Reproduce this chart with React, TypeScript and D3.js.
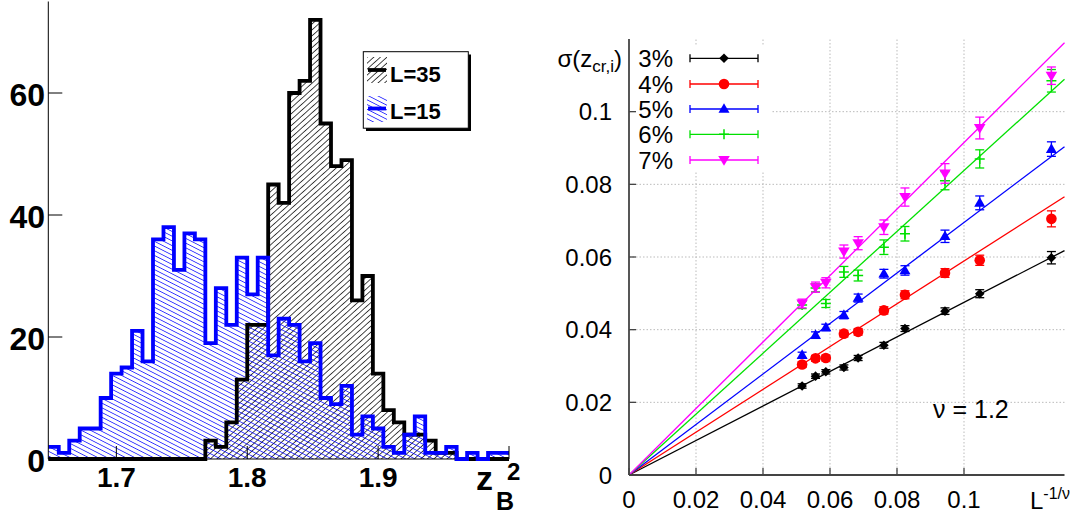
import React from 'react';
import * as d3 from 'd3';

// ---------- Left panel: distributions of z_B^2 ----------
const histRange: [number, number] = [1.648, 2.0];
const countsL35 = [
  0, 0, 0, 0, 0, 0, 0, 0, 0, 0, 0, 0, 0, 0, 0,
  3, 2, 6, 13, 22, 22, 45, 42, 60, 62, 72, 55, 48, 49, 26, 30, 14, 8, 6, 4, 4, 3, 1, 1,
  0, 0, 0, 0, 0,
];
const countsL15 = [
  2, 1, 3, 5, 5, 10, 14, 15, 21, 16, 36, 38, 31, 37, 36, 19, 28, 22, 33, 27, 33, 17,
  23, 22, 16, 19, 10, 9, 12, 4, 7, 5, 2, 1, 4, 7, 1, 1, 2, 0, 1, 0, 1, 1,
];
const histYTicks = [0, 20, 40, 60];
const histXTicks = [1.7, 1.8, 1.9];
const histLegend = ['L=35', 'L=15'];

// ---------- Right panel: width of z_cr,i versus L^(-1/nu) ----------
const nu = 1.2;
const sizes = [35, 32, 30, 27, 25, 22, 20, 17, 15, 12];
const percents = ['3%', '4%', '5%', '6%', '7%'];
const sigma3 = [0.0245, 0.0272, 0.0284, 0.0296, 0.0322, 0.0357, 0.0403, 0.0451, 0.0499, 0.0598];
const sigma4 = [0.0304, 0.0321, 0.0322, 0.0389, 0.0394, 0.0453, 0.0496, 0.0556, 0.0591, 0.0705];
const sigma5 = [0.033, 0.0385, 0.0406, 0.044, 0.0487, 0.0554, 0.0563, 0.0657, 0.0749, 0.0897];
const sigma6 = [0.0468, 0.0515, 0.0472, 0.0559, 0.0549, 0.0627, 0.0664, 0.081, 0.087, 0.1085];
const sigma7 = [0.0472, 0.0517, 0.0529, 0.0615, 0.0638, 0.0682, 0.0765, 0.083, 0.0955, 0.1099];
const err3 = [0.0006, 0.0006, 0.0006, 0.0007, 0.0007, 0.0008, 0.0008, 0.0009, 0.0011, 0.0017];
const err4 = [0.0008, 0.0008, 0.0008, 0.0009, 0.0009, 0.001, 0.0011, 0.0012, 0.0014, 0.0022];
const err5 = [0.0008, 0.0009, 0.0009, 0.001, 0.0011, 0.0012, 0.0013, 0.0017, 0.0019, 0.002];
const err6 = [0.001, 0.0011, 0.0011, 0.0015, 0.0015, 0.002, 0.002, 0.0025, 0.0025, 0.0031];
const err7 = [0.0012, 0.0014, 0.0014, 0.0018, 0.0018, 0.002, 0.0025, 0.0027, 0.003, 0.0024];
const fitSlopes = [0.475, 0.589, 0.695, 0.838, 0.915];
const sigmaXTicks = [0, 0.02, 0.04, 0.06, 0.08, 0.1];
const sigmaYTicks = [0, 0.02, 0.04, 0.06, 0.08, 0.1];

const seriesColors = ['#000000', '#ff0000', '#0000ff', '#00e000', '#ff00ff'];
const markerKinds = ['diamond', 'circle', 'up', 'plus', 'down'];
const sigmaSets = [sigma3, sigma4, sigma5, sigma6, sigma7];
const errSets = [err3, err4, err5, err6, err7];

const SANS = '"Liberation Sans", Arial, Helvetica, sans-serif';

function Marker({ kind, x, y, color }: { kind: string; x: number; y: number; color: string }) {
  if (kind === 'circle') return <circle cx={x} cy={y} r={5.3} fill={color} />;
  if (kind === 'diamond')
    return <path d={`M${x},${y - 4.8}L${x + 4.8},${y}L${x},${y + 4.8}L${x - 4.8},${y}Z`} fill={color} />;
  if (kind === 'up')
    return <path d={`M${x},${y - 5.8}L${x + 5.5},${y + 3.8}L${x - 5.5},${y + 3.8}Z`} fill={color} />;
  if (kind === 'down')
    return <path d={`M${x},${y + 5.8}L${x + 5.8},${y - 4}L${x - 5.8},${y - 4}Z`} fill={color} />;
  return (
    <path d={`M${x - 5},${y}H${x + 5}M${x},${y - 5}V${y + 5}`} stroke={color} strokeWidth={1.5} fill="none" />
  );
}

export default function App() {
  // histogram scales
  const hx = d3.scaleLinear().domain(histRange).range([48.3, 509]);
  const hy = d3.scaleLinear().domain([0, 75]).range([459, 1.5]);
  const binW = (histRange[1] - histRange[0]) / countsL35.length;
  const stepPts = (counts: number[]) => {
    const pts: [number, number][] = counts.map((c, i) => [histRange[0] + i * binW, c]);
    pts.push([histRange[1], counts[counts.length - 1]]);
    return pts;
  };
  const histLine = d3
    .line<[number, number]>()
    .x((d) => hx(d[0]))
    .y((d) => hy(d[1]))
    .curve(d3.curveStepAfter);
  const histArea = d3
    .area<[number, number]>()
    .x((d) => hx(d[0]))
    .y0(hy(0))
    .y1((d) => hy(d[1]))
    .curve(d3.curveStepAfter);
  const pts35 = stepPts(countsL35);
  const pts15 = stepPts(countsL15);

  // sigma scales
  const sx = d3.scaleLinear().domain([0, 0.13]).range([629, 1064.5]);
  const sy = d3.scaleLinear().domain([0, 0.12]).range([475, 39]);
  const xs = sizes.map((L) => Math.pow(L, -1 / nu));
  const fitLine = d3
    .line<[number, number]>()
    .x((d) => sx(d[0]))
    .y((d) => sy(d[1]));

  const legendRows = [58.3, 84, 109, 134.3, 160];

  return (
    <div style={{ position: 'absolute', left: 0, top: 0 }}>
      <svg width={1079} height={518} style={{ display: 'block', background: '#fff' }}>
        <defs>
          <pattern id="hatchBlack" patternUnits="userSpaceOnUse" width={10} height={4.4} patternTransform="rotate(-42)">
            <line x1={0} y1={2.2} x2={10} y2={2.2} stroke="#000" strokeWidth={0.75} />
          </pattern>
          <pattern id="hatchBlue" patternUnits="userSpaceOnUse" width={10} height={4.2} patternTransform="rotate(27)">
            <line x1={0} y1={2.1} x2={10} y2={2.1} stroke="#0000ff" strokeWidth={0.75} />
          </pattern>
        </defs>

        {/* ===== left panel ===== */}
        <path d={histArea(pts35) || ''} fill="url(#hatchBlack)" />
        <path d={histArea(pts15) || ''} fill="url(#hatchBlue)" />
        <line x1={hx(histRange[0])} x2={hx(histRange[1])} y1={hy(0)} y2={hy(0)} stroke="#000" strokeWidth={1} />
        <path d={histLine(pts35) || ''} fill="none" stroke="#000" strokeWidth={3.8} />
        <path d={histLine(pts15) || ''} fill="none" stroke="#0000ff" strokeWidth={3.8} />
        <line x1={hx(histRange[0])} x2={hx(histRange[0])} y1={hy(0)} y2={hy(75)} stroke="#000" strokeWidth={1} />
        {histYTicks.map((t) => (
          <g key={`hy${t}`}>
            <line x1={hx(histRange[0])} x2={hx(histRange[0]) + 14} y1={hy(t)} y2={hy(t)} stroke="#000" strokeWidth={1} />
            <text x={45} y={hy(t) + 13} textAnchor="end" fontFamily={SANS} fontWeight="bold" fontSize={32}>
              {t}
            </text>
          </g>
        ))}
        {[...histXTicks, 2.0].map((t) => (
          <line key={`hxt${t}`} x1={hx(t)} x2={hx(t)} y1={hy(0)} y2={hy(0) - 13} stroke="#000" strokeWidth={1} />
        ))}
        {histXTicks.map((t) => (
          <text key={`hx${t}`} x={hx(t)} y={487} textAnchor="middle" fontFamily={SANS} fontWeight="bold" fontSize={28}>
            {t.toFixed(1)}
          </text>
        ))}
        <text x={476} y={490} fontFamily={SANS} fontWeight="bold" fontSize={34}>
          z
        </text>
        <text x={496} y={510} fontFamily={SANS} fontWeight="bold" fontSize={25}>
          B
        </text>
        <text x={507} y={480} fontFamily={SANS} fontWeight="bold" fontSize={24}>
          2
        </text>

        {/* legend */}
        <rect x={366} y={54.5} width={105} height={76.5} fill="#000" />
        <rect x={363.3} y={51.7} width={105} height={76.5} fill="#fff" stroke="#000" strokeWidth={1} />
        <rect x={367} y={57} width={20} height={26} fill="url(#hatchBlack)" />
        <line x1={368} x2={386} y1={70} y2={70} stroke="#000" strokeWidth={3.8} />
        <rect x={367} y={96} width={20} height={26} fill="url(#hatchBlue)" />
        <line x1={368} x2={386} y1={108.5} y2={108.5} stroke="#0000ff" strokeWidth={3.8} />
        <text x={390} y={81.7} fontFamily={SANS} fontWeight="bold" fontSize={22}>
          {histLegend[0]}
        </text>
        <text x={390} y={118.5} fontFamily={SANS} fontWeight="bold" fontSize={22}>
          {histLegend[1]}
        </text>

        {/* ===== right panel ===== */}
        {sigmaXTicks.slice(1).map((t) => (
          <line key={`gx${t}`} x1={sx(t)} x2={sx(t)} y1={sy(0)} y2={sy(0.12)} stroke="#bbb" strokeWidth={1} strokeDasharray="1.5,2" />
        ))}
        {sigmaYTicks.slice(1).map((t) => (
          <line key={`gy${t}`} x1={sx(0)} x2={sx(0.13)} y1={sy(t)} y2={sy(t)} stroke="#bbb" strokeWidth={1} strokeDasharray="1.5,2" />
        ))}

        {/* fits through the origin */}
        {fitSlopes.map((k, i) => (
          <path
            key={`fit${i}`}
            d={fitLine([[0, 0], [0.13, k * 0.13]]) || ''}
            stroke={seriesColors[i]}
            strokeWidth={1.3}
            fill="none"
          />
        ))}

        {/* data with error bars */}
        {sigmaSets.map((vals, si) => (
          <g key={`s${si}`}>
            {vals.map((v, j) => {
              const x = sx(xs[j]);
              const e = errSets[si][j];
              const col = seriesColors[si];
              return (
                <g key={j}>
                  <line x1={x} x2={x} y1={sy(v - e)} y2={sy(v + e)} stroke={col} strokeWidth={1.3} />
                  <line x1={x - 4.5} x2={x + 4.5} y1={sy(v - e)} y2={sy(v - e)} stroke={col} strokeWidth={1.3} />
                  <line x1={x - 4.5} x2={x + 4.5} y1={sy(v + e)} y2={sy(v + e)} stroke={col} strokeWidth={1.3} />
                  <Marker kind={markerKinds[si]} x={x} y={sy(v)} color={col} />
                </g>
              );
            })}
          </g>
        ))}

        {/* legend box */}
        <rect x={632} y={45} width={139} height={127} fill="#fff" />
        {percents.map((p, i) => {
          const y = legendRows[i];
          const col = seriesColors[i];
          return (
            <g key={p}>
              <text x={673} y={y + 8.6} textAnchor="end" fontFamily={SANS} fontSize={24}>
                {p}
              </text>
              <line x1={690} x2={758} y1={y} y2={y} stroke={col} strokeWidth={1.3} />
              <line x1={690} x2={690} y1={y - 4} y2={y + 4} stroke={col} strokeWidth={1.3} />
              <line x1={758} x2={758} y1={y - 4} y2={y + 4} stroke={col} strokeWidth={1.3} />
              <Marker kind={markerKinds[i]} x={724} y={y} color={col} />
            </g>
          );
        })}

        {/* axes */}
        <line x1={sx(0)} x2={sx(0)} y1={sy(0)} y2={sy(0.12)} stroke="#444" strokeWidth={1.8} />
        <line x1={sx(0)} x2={sx(0.13)} y1={sy(0)} y2={sy(0)} stroke="#444" strokeWidth={1.8} />
        {sigmaYTicks.map((t) => (
          <g key={`ty${t}`}>
            <line x1={sx(0)} x2={sx(0) + 7} y1={sy(t)} y2={sy(t)} stroke="#444" strokeWidth={1.3} />
            <text x={612} y={sy(t) + 8.6} textAnchor="end" fontFamily={SANS} fontSize={24}>
              {t === 0 ? '0' : String(t)}
            </text>
          </g>
        ))}
        {sigmaXTicks.map((t) => (
          <g key={`tx${t}`}>
            <line x1={sx(t)} x2={sx(t)} y1={sy(0)} y2={sy(0) - 7} stroke="#444" strokeWidth={1.3} />
            <text x={sx(t)} y={508} textAnchor="middle" fontFamily={SANS} fontSize={24}>
              {t === 0 ? '0' : String(t)}
            </text>
          </g>
        ))}
        <text x={622} y={66.7} textAnchor="end" fontFamily={SANS} fontSize={24}>
          σ(z<tspan fontSize={17} dy={5}>cr,i</tspan>
          <tspan dy={-5}>)</tspan>
        </text>
        <text x={933} y={418} fontFamily={SANS} fontSize={25}>
          ν = 1.2
        </text>
        <text x={1030} y={509} fontFamily={SANS} fontSize={24}>
          L<tspan fontSize={16} dy={-10}>-1/ν</tspan>
        </text>
      </svg>
    </div>
  );
}
